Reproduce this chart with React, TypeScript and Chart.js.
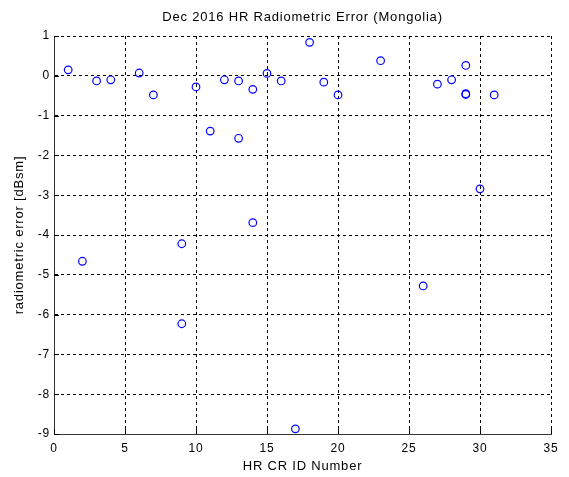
import React, { useEffect, useRef } from "react";
import { Chart, registerables } from "chart.js";

Chart.register(...registerables);

const idNumbers = [1, 2, 3, 4, 6, 7, 9, 9, 10, 11, 12, 13, 13, 14, 14, 15, 16, 17, 18, 19, 20, 23, 26, 27, 28, 29, 29, 29, 30, 31];
const errorsDbsm = [0.15, -4.66, -0.13, -0.1, 0.07, -0.48, -4.22, -6.23, -0.28, -1.39, -0.1, -0.13, -1.57, -0.34, -3.69, 0.06, -0.13, -8.87, 0.84, -0.16, -0.48, 0.38, -5.28, -0.21, -0.1, 0.26, -0.45, -0.47, -2.84, -0.48];

const titleText = "Dec 2016 HR Radiometric Error (Mongolia)";
const xTitle = "HR CR ID Number";
const yTitle = "radiometric error [dBsm]";
const xMin = 0;
const xMax = 35;
const xStep = 5;
const yMin = -9;
const yMax = 1;
const yStep = 1;

const FONT = "'Liberation Sans', Arial, Helvetica, sans-serif";

const spacing = {
  id: "spacing",
  beforeDraw(chart: any) {
    try {
      chart.ctx.letterSpacing = "0.8px";
    } catch (e) {}
  },
};

const inwardTicks = {
  id: "inwardTicks",
  afterDatasetsDraw(chart: any) {
    const { ctx, chartArea } = chart;
    const xs = chart.scales.x;
    const ys = chart.scales.y;
    ctx.save();
    ctx.strokeStyle = "#000";
    ctx.lineWidth = 1;
    ctx.setLineDash([]);
    ctx.beginPath();
    ys.ticks.forEach((t: any) => {
      const p = Math.round(ys.getPixelForValue(t.value)) + 0.5;
      ctx.moveTo(chartArea.left, p);
      ctx.lineTo(chartArea.left + 5, p);
    });
    xs.ticks.forEach((t: any) => {
      const p = Math.round(xs.getPixelForValue(t.value)) + 0.5;
      ctx.moveTo(p, chartArea.bottom);
      ctx.lineTo(p, chartArea.bottom - 5);
    });
    ctx.stroke();
    ctx.restore();
  },
};

export default function App() {
  const ref = useRef<HTMLCanvasElement | null>(null);
  useEffect(() => {
    if (!ref.current) return;
    const points = idNumbers.map((x, i) => ({ x, y: errorsDbsm[i] }));
    const chart = new Chart(ref.current, {
      type: "scatter",
      data: {
        datasets: [
          {
            data: points,
            borderColor: "#0000ff",
            backgroundColor: "rgba(0,0,0,0)",
            pointRadius: 3.8,
            pointBorderWidth: 1.2,
            pointStyle: "circle",
            clip: false,
          } as any,
        ],
      },
      options: {
        responsive: false,
        animation: false,
        devicePixelRatio: 1,
        layout: { padding: { left: 0, right: 18, top: 0, bottom: 0 } },
        plugins: {
          legend: { display: false },
          tooltip: { enabled: false },
          title: {
            display: true,
            text: titleText,
            color: "#000",
            font: { family: FONT, size: 13, weight: "normal" },
            padding: { top: 10, bottom: 10.4 },
            fullSize: false,
          } as any,
        },
        scales: {
          x: {
            type: "linear",
            min: xMin,
            max: xMax,
            ticks: {
              stepSize: xStep,
              color: "#000",
              font: { family: FONT, size: 12 },
              padding: 7,
            },
            grid: { color: "#000", lineWidth: 1, drawTicks: false },
            border: { display: true, color: "#333", width: 1, dash: [3, 3] },
            title: {
              display: true,
              text: xTitle,
              color: "#000",
              font: { family: FONT, size: 13 },
              padding: { top: 0, bottom: 3 },
            },
            afterFit(scale: any) {
              scale.height = 43;
            },
          },
          y: {
            type: "linear",
            min: yMin,
            max: yMax,
            ticks: {
              stepSize: yStep,
              color: "#000",
              font: { family: FONT, size: 12 },
              padding: 4,
            },
            grid: { color: "#000", lineWidth: 1, drawTicks: false },
            border: { display: true, color: "#333", width: 1, dash: [3, 3] },
            title: {
              display: true,
              text: yTitle,
              color: "#000",
              font: { family: FONT, size: 13 },
              padding: { top: 12, bottom: 0 },
            },
            afterFit(scale: any) {
              scale.width = 54;
            },
          },
        },
      } as any,
      plugins: [spacing, inwardTicks],
    });
    return () => chart.destroy();
  }, []);
  return (
    <div style={{ position: "absolute", left: 0, top: 0, width: 569, height: 477, background: "#fff" }}>
      <canvas ref={ref} width={569} height={477} style={{ width: 569, height: 477, display: "block" }} />
    </div>
  );
}
